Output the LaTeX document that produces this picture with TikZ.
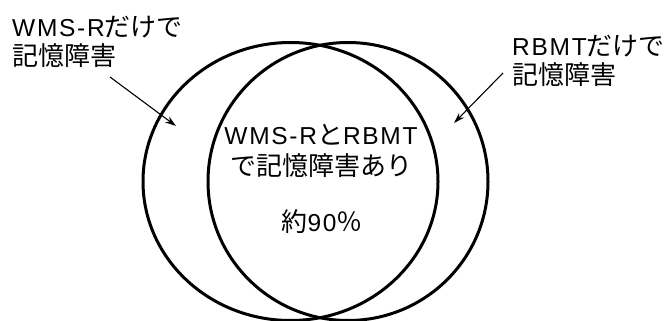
\documentclass[tikz,border=0pt]{standalone}
\usepackage{fontspec}
\setmainfont{Noto Sans CJK JP}
\newfontfamily\latf[LetterSpace=7]{Liberation Sans}
\usetikzlibrary{arrows.meta}
\newcommand\lt[1]{{\latf\fontsize{24.5}{29}\selectfont #1}}
\begin{document}
\begin{tikzpicture}[x=1pt,y=-1pt,
  venn/.style={line width=3pt},
  lbl/.style={inner sep=0pt, font=\fontsize{26}{29}\selectfont, align=left},
  ctr/.style={inner sep=0pt, font=\fontsize{26}{31}\selectfont, align=center},
  pointer/.style={line width=1.1pt, -{Stealth[length=11pt,width=7pt]}}]
\useasboundingbox (0,0) rectangle (664,321);
\fill[white] (0,0) rectangle (664,321);
% sets
\draw[venn] (290.5,181.5) ellipse [x radius=147.5, y radius=139];
\draw[venn] (348,181.5) ellipse [x radius=140, y radius=139];
% labels
\node[lbl, anchor=north west] (lefttxt) at (12,16) {\lt{WMS-R}だけで\\記憶障害};
\node[lbl, anchor=north west] (righttxt) at (512,35) {\lt{RBMT}だけで\\記憶障害};
\node[ctr, anchor=north] (both) at (321,124) {\lt{WMS-R}と\lt{RBMT}\\で記憶障害あり};
\node[ctr, anchor=north] (pct) at (322,209) {約\lt{90}％};
% pointers
\coordinate (la1) at (110,77);
\coordinate (la2) at (176,126);
\coordinate (ra1) at (503,73);
\coordinate (ra2) at (454,123);
\draw[pointer] (la1) -- (la2);
\draw[pointer] (ra1) -- (ra2);
\end{tikzpicture}
\end{document}
